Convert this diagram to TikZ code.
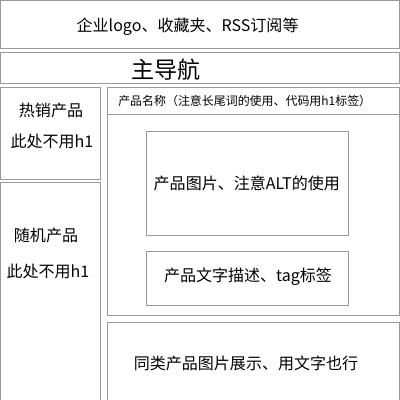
\documentclass[tikz,border=0pt]{standalone}
\usepackage{fontspec}
\newfontfamily\cjk{Noto Sans CJK SC}

\begin{document}
\begin{tikzpicture}[
  box/.style={draw, color=black!40, line width=0.025cm, inner sep=0.0cm},
  lbl/.style={color=black, inner sep=0.0cm,
    font=\cjk\fontsize{11.4}{13}\selectfont},
  biglbl/.style={lbl, font=\cjk\fontsize{16.4}{18}\selectfont},
  smalllbl/.style={lbl, font=\cjk\fontsize{8.5}{10}\selectfont}
]
\useasboundingbox (0,0) rectangle (10,-10);
\clip (0,0) rectangle (10,-10);

% header
\draw (5.0, -0.62)
  node[box, minimum width=9.98cm, minimum height=1.21cm] (header) {};
\draw (4.69, -0.675) node[lbl] (headertext) {企业logo、收藏夹、RSS订阅等};

% main navigation
\draw (5.0, -1.7125)
  node[box, minimum width=9.98cm, minimum height=0.775cm] (nav) {};
\draw (4.15, -1.75) node[biglbl] (navtext) {主导航};

% left column
\draw (1.2625, -3.35)
  node[box, minimum width=2.5cm, minimum height=2.3cm] (hot) {};
\draw (1.275, -2.75) node[lbl] (hottext) {热销产品};
\draw (1.3, -3.525) node[lbl] (hotnote) {此处不用h1};

\draw (1.2625, -7.4125)
  node[box, minimum width=2.5cm, minimum height=5.675cm] (random) {};
\draw (1.15, -5.875) node[lbl] (randomtext) {随机产品};
\draw (1.2, -6.775) node[lbl] (randomnote) {此处不用h1};

% product area
\draw (6.33, -5.04)
  node[box, minimum width=7.31cm, minimum height=5.69cm] (product) {};
\draw (6.33, -2.5375)
  node[box, minimum width=7.31cm, minimum height=0.675cm] (title) {};
\draw (2.95, -2.525) node[smalllbl, anchor=west] (titletext)
  {产品名称（注意长尾词的使用、代码用h1标签）};

\draw (6.19, -4.59)
  node[box, minimum width=5.06cm, minimum height=2.61cm] (photo) {};
\draw (6.17, -4.58) node[lbl] (phototext) {产品图片、注意ALT的使用};

\draw (6.19, -6.95)
  node[box, minimum width=5.06cm, minimum height=1.35cm] (desc) {};
\draw (6.2, -6.93) node[lbl] (desctext) {产品文字描述、tag标签};

% related products
\draw (6.33, -9.15)
  node[box, minimum width=7.31cm, minimum height=2.2cm] (related) {};
\draw (6.15, -9.075) node[lbl] (relatedtext) {同类产品图片展示、用文字也行};

\end{tikzpicture}
\end{document}
